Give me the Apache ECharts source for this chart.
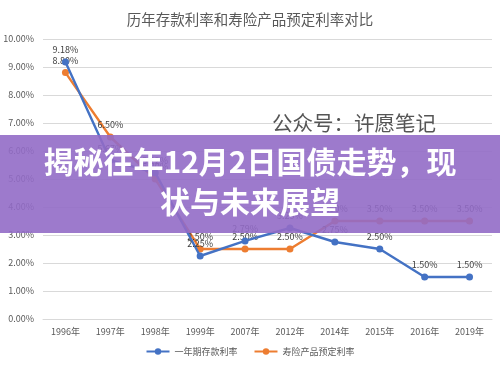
<!DOCTYPE html>
<html><head><meta charset="utf-8">
<script src="https://cdn.jsdelivr.net/npm/echarts@6/dist/echarts.min.js"></script>
<style>html,body{margin:0;padding:0;background:#fff}#c{width:500px;height:368px}</style>
</head><body><div id="c"></div>
<script>
var categories = ['1996年','1997年','1998年','1999年','2007年','2012年','2014年','2015年','2016年','2019年'];
var depositRate = [9.18, 5.67, 5.22, 2.25, 2.79, 3.25, 2.75, 2.50, 1.50, 1.50];
var insuranceRate = [8.80, 6.50, 5.00, 2.50, 2.50, 2.50, 3.50, 3.50, 3.50, 3.50];
var seriesNames = ['一年期存款利率', '寿险产品预定利率'];
var titleText = '历年存款利率和寿险产品预定利率对比';
var bannerLines = ['揭秘往年12月2日国债走势，现', '状与未来展望'];
var watermark = '公众号：许愿笔记';

var font = '"Microsoft YaHei","Noto Sans CJK SC",sans-serif';
var chart = echarts.init(document.getElementById('c'));
function lbl(){return {show:true,position:'top',distance:4,fontSize:9,color:'#404040',fontFamily:font,formatter:function(p){return p.value.toFixed(2)+'%';}};}
chart.setOption({
  animation:false,
  title:{text:titleText,left:'center',top:7,textStyle:{fontSize:14.5,fontWeight:'normal',color:'#595959',fontFamily:font}},
  grid:{left:43,right:8,top:39,bottom:49},
  legend:{bottom:7,left:'center',itemWidth:23,itemHeight:8,itemGap:16,textStyle:{fontSize:9,color:'#595959',fontFamily:font},data:seriesNames},
  xAxis:{type:'category',data:categories,boundaryGap:true,axisLine:{show:true,lineStyle:{color:'#d9d9d9'}},axisTick:{show:false},axisLabel:{fontSize:9,color:'#595959',margin:8,fontFamily:font}},
  yAxis:{type:'value',min:0,max:10,interval:1,axisLabel:{fontSize:9,color:'#595959',margin:9,fontFamily:font,formatter:function(v){return v.toFixed(2)+'%';}},splitLine:{lineStyle:{color:'#d9d9d9'}},axisLine:{show:false},axisTick:{show:false}},
  series:[
    {name:seriesNames[0],type:'line',data:depositRate,color:'#4472C4',symbol:'circle',symbolSize:7,lineStyle:{width:2.4},label:lbl(),z:3},
    {name:seriesNames[1],type:'line',data:insuranceRate,color:'#ED7D31',symbol:'circle',symbolSize:7,lineStyle:{width:2.4},label:lbl(),z:2}
  ],
  graphic:[
    {type:'text',left:272,top:113,z:50,style:{text:watermark,fontSize:20.5,fill:'#555555',fontFamily:font}},
    {type:'rect',left:0,top:135,z:100,shape:{width:500,height:98},style:{fill:'rgba(146,108,198,0.9)'}},
    {type:'text',left:'center',top:147,z:101,style:{text:bannerLines[0],fontSize:30,fontWeight:'bold',fill:'#ffffff',fontFamily:font,shadowBlur:3,shadowColor:'rgba(0,0,0,0.35)'}},
    {type:'text',left:'center',top:187,z:101,style:{text:bannerLines[1],fontSize:30,fontWeight:'bold',fill:'#ffffff',fontFamily:font,shadowBlur:3,shadowColor:'rgba(0,0,0,0.35)'}}
  ]
});
</script></body></html>
